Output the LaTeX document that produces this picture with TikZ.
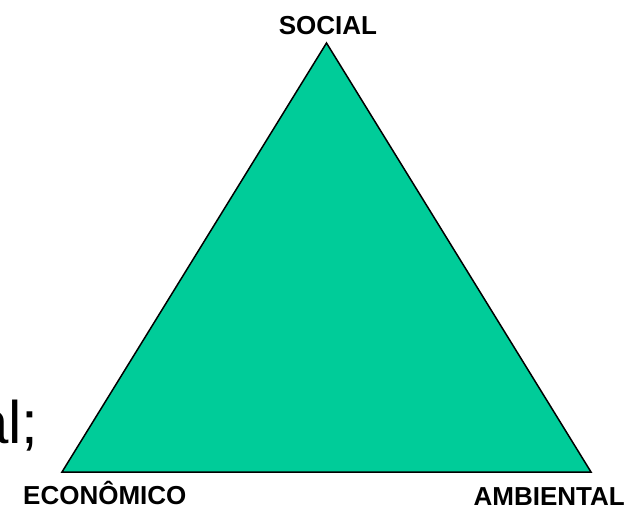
\documentclass[tikz,border=0pt]{standalone}
\usepackage{fontspec}
\setmainfont{Liberation Sans}
\definecolor{verdeagua}{RGB}{0,204,153}

\tikzset{
	,x = 1pt
	,y = -1pt
	,vertice/.style = {font = \fontsize{26}{30}\selectfont\bfseries, inner sep = 0pt}
	,texto/.style   = {font = \fontsize{60}{70}\selectfont, inner sep = 0pt, anchor = base west}
	,lado/.style    = {draw = black, line width = 1.5pt, fill = verdeagua, line join = miter}
}

\begin{document}
\begin{tikzpicture}
				\useasboundingbox (0, 0) rectangle (631, 510);
				\coordinate (s) at (326.5, 43);
				\coordinate (e) at (62, 472);
				\coordinate (a) at (591, 472);
				\draw[lado] (s) -- (a) -- (e) -- cycle;
				\node[vertice, anchor = base]      at (328, 35)  (social)    {SOCIAL};
				\node[vertice, anchor = base west] at (23, 504)  (economico) {ECONÔMICO};
				\node[vertice, anchor = base east] at (625, 505) (ambiental) {AMBIENTAL};
				\node[texto] at (-25, 443) (resto) {al;};
			\end{tikzpicture}
\end{document}
